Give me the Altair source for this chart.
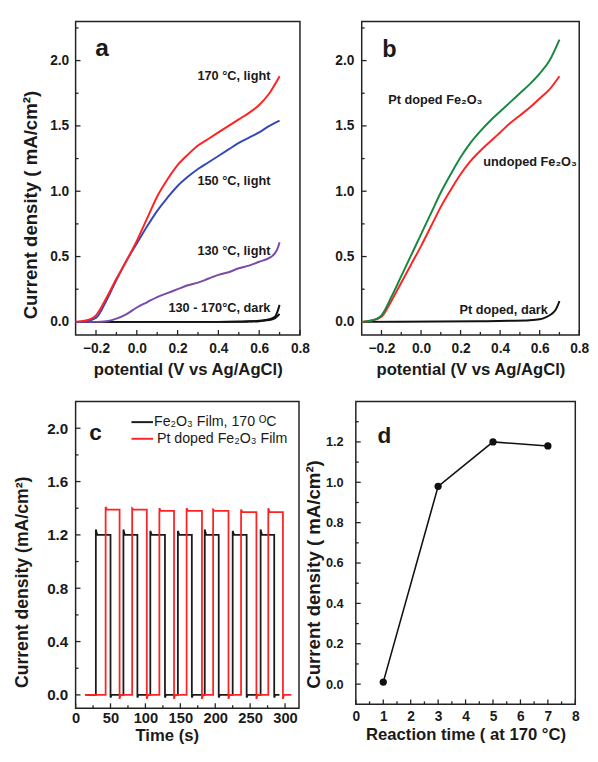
import altair as alt
import pandas as pd

FONT = "Liberation Sans"
INK = "#1a1a1a"
FRAME = "#222222"

# ---------------- panel a : LSV, undoped films ----------------
a_x = [-0.3, -0.25, -0.2, -0.15, -0.1, -0.05, 0.0, 0.05, 0.1, 0.15, 0.2, 0.25,
       0.3, 0.35, 0.4, 0.45, 0.5, 0.55, 0.6, 0.65, 0.7]
a_170_light = [0.0, 0.01, 0.05, 0.18, 0.33, 0.47, 0.62, 0.79, 0.96, 1.09, 1.20, 1.28,
               1.35, 1.40, 1.45, 1.50, 1.55, 1.60, 1.66, 1.75, 1.88]
a_150_light = [0.0, 0.005, 0.03, 0.16, 0.32, 0.47, 0.60, 0.73, 0.85, 0.95, 1.04, 1.11,
               1.17, 1.22, 1.27, 1.32, 1.37, 1.41, 1.45, 1.50, 1.54]
a_130_x = [-0.3, -0.2, -0.15, -0.1, -0.05, 0.0, 0.05, 0.1, 0.15, 0.2, 0.25, 0.3, 0.35,
           0.4, 0.45, 0.5, 0.55, 0.6, 0.65, 0.675, 0.69, 0.7]
a_130_light = [0.0, 0.0, 0.005, 0.025, 0.06, 0.11, 0.15, 0.19, 0.22, 0.25, 0.28, 0.30, 0.33,
               0.36, 0.38, 0.41, 0.43, 0.46, 0.49, 0.52, 0.56, 0.61]
a_dark_x = [-0.3, 0.4, 0.5, 0.55, 0.6, 0.63, 0.66, 0.68, 0.69, 0.7]
a_dark_hi = [0.0, 0.0, 0.002, 0.004, 0.008, 0.014, 0.025, 0.045, 0.08, 0.13]
a_dark_lo = [0.0, 0.0, 0.0, 0.002, 0.005, 0.01, 0.018, 0.03, 0.045, 0.06]
a_notes = ["170 °C, light", "150 °C, light", "130 °C, light", "130 - 170°C, dark"]
a_notes_x = [0.655, 0.655, 0.655, 0.655]
a_notes_y = [1.885, 1.075, 0.544, 0.105]

# ---------------- panel b : Pt doped vs undoped ----------------
b_x = a_x
b_pt_light = [0.0, 0.01, 0.05, 0.19, 0.35, 0.51, 0.67, 0.83, 0.99, 1.13, 1.26, 1.37,
              1.46, 1.54, 1.61, 1.68, 1.75, 1.82, 1.90, 2.00, 2.16]
b_undoped = [0.0, 0.01, 0.04, 0.16, 0.30, 0.44, 0.58, 0.73, 0.88, 1.01, 1.13, 1.23,
             1.31, 1.38, 1.45, 1.52, 1.58, 1.64, 1.71, 1.78, 1.88]
b_dark_x = [-0.3, 0.3, 0.45, 0.55, 0.6, 0.63, 0.66, 0.68, 0.69, 0.7]
b_dark = [0.0, 0.005, 0.008, 0.012, 0.02, 0.035, 0.06, 0.09, 0.12, 0.16]
b_notes_left = ["Pt doped Fe₂O₃", "undoped Fe₂O₃"]
b_notes_left_x = [-0.166, 0.315]
b_notes_left_y = [1.70, 1.22]
b_notes_right = ["Pt doped, dark"]
b_notes_right_x = [0.641]
b_notes_right_y = [0.09]

xv_ticks = [-0.2, 0.0, 0.2, 0.4, 0.6, 0.8]
xv_minor = [-0.1, 0.1, 0.3, 0.5, 0.7]
jv_ticks = [0.0, 0.5, 1.0, 1.5, 2.0]
jv_minor = [0.25, 0.75, 1.25, 1.75, 2.25]

# ---------------- panel c : chopped light transients ----------------
c_black_name = "Fe₂O₃ Film, 170 ᴼC"
c_red_name = "Pt doped Fe₂O₃ Film"
c_black_on = [29, 68.5, 107, 146.5, 185, 225, 265]
c_black_off = [50, 88.5, 128, 166.5, 205, 245, 284.5]
c_black_level = [1.20, 1.20, 1.20, 1.20, 1.20, 1.20, 1.20]
c_black_peak = [1.24, 1.24, 1.23, 1.23, 1.24, 1.23, 1.24]
c_red_on = [43, 81, 120, 159, 197, 237, 276]
c_red_off = [63, 102, 141, 181, 219, 259, 297]
c_red_level = [1.39, 1.39, 1.38, 1.38, 1.38, 1.37, 1.37]
c_red_peak = [1.41, 1.40, 1.40, 1.40, 1.39, 1.39, 1.40]
c_black_span = [14, 292]
c_red_span = [14, 309]
c_black_dip = -0.02
c_red_dip = -0.03
t_ticks = [0, 50, 100, 150, 200, 250, 300]
t_minor = [25, 75, 125, 175, 225, 275]
jc_ticks = [0.0, 0.4, 0.8, 1.2, 1.6, 2.0]
jc_minor = [0.2, 0.6, 1.0, 1.4, 1.8]

# ---------------- panel d : reaction time ----------------
d_time = [1, 3, 5, 7]
d_current = [0.01, 0.98, 1.20, 1.18]
r_ticks = [0, 1, 2, 3, 4, 5, 6, 7, 8]
r_minor = [0.5, 1.5, 2.5, 3.5, 4.5, 5.5, 6.5, 7.5]
jd_ticks = [0.0, 0.2, 0.4, 0.6, 0.8, 1.0, 1.2]
jd_minor = [0.1, 0.3, 0.5, 0.7, 0.9, 1.1, 1.3]


def axis(values, fmt, title, lsize, tsize, lpad, tpad, **kw):
    return alt.Axis(values=values, format=fmt, title=title, labelFont=FONT,
                    labelFontSize=lsize, labelFontWeight="bold", labelColor=INK,
                    titleFont=FONT, titleFontSize=tsize, titleFontWeight="bold",
                    titleColor=INK, labelPadding=lpad, titlePadding=tpad, ticks=False,
                    tickSize=0, domain=False, grid=False, labelFlush=False,
                    labelOverlap=False, labelBound=False, **kw)


def line(xs, ys, color, xenc, yenc, width=2.0, interp="monotone"):
    df = pd.DataFrame({"x": xs, "y": ys})
    return alt.Chart(df).mark_line(color=color, strokeWidth=width,
                                   interpolate=interp).encode(x=xenc, y=yenc)


def tick_layers(xenc, yenc, xmaj, xmin, ymaj, ymin, H):
    out = []
    for vals, L in ((xmaj, 5), (xmin, 3)):
        out.append(alt.Chart(pd.DataFrame({"x": vals})).mark_rule(
            color=FRAME, strokeWidth=1.3).encode(x=xenc, y=alt.value(H), y2=alt.value(H - L)))
    for vals, L in ((ymaj, 5), (ymin, 3)):
        out.append(alt.Chart(pd.DataFrame({"y": vals})).mark_rule(
            color=FRAME, strokeWidth=1.3).encode(y=yenc, x=alt.value(0), x2=alt.value(L)))
    return out


def letter(t, px, py, size):
    return alt.Chart(pd.DataFrame({"t": [t]})).mark_text(
        font=FONT, fontSize=size, fontWeight="bold", color=INK, align="left",
        baseline="alphabetic").encode(text="t:N", x=alt.value(px), y=alt.value(py))


def notes(xs, ys, texts, xenc, yenc, align, size=13):
    df = pd.DataFrame({"x": xs, "y": ys, "t": texts})
    return alt.Chart(df).mark_text(font=FONT, fontSize=size, fontWeight="bold",
                                   color=INK, align=align, baseline="middle").encode(
        x=xenc, y=yenc, text="t:N")


# ---- panel a
WA, HA = 229, 320
xa = alt.X("x:Q", scale=alt.Scale(domain=[-0.3, 0.8], nice=False, zero=False),
           axis=axis(xv_ticks, ".1f", "potential (V vs Ag/AgCl)", 14, 17, 7, 6))
ya = alt.Y("y:Q", scale=alt.Scale(domain=[-0.1, 2.3], nice=False, zero=False),
           axis=axis(jv_ticks, ".1f", "Current density ( mA/cm²)", 14, 19, 7, 9.5, titleY=187))
panel_a = alt.layer(
    *tick_layers(xa, ya, xv_ticks, xv_minor, jv_ticks, jv_minor, HA),
    line(a_dark_x, a_dark_lo, "#111111", xa, ya),
    line(a_dark_x, a_dark_hi, "#111111", xa, ya),
    line(a_130_x, a_130_light, "#7b4aa8", xa, ya),
    line(a_x, a_150_light, "#3548b8", xa, ya),
    line(a_x, a_170_light, "#ff2222", xa, ya),
    notes(a_notes_x, a_notes_y, a_notes, xa, ya, "right"),
    letter("a", 20, 35, 25),
).properties(width=WA, height=HA)

# ---- panel b
WB = 222
xb = alt.X("x:Q", scale=alt.Scale(domain=[-0.3, 0.8], nice=False, zero=False),
           axis=axis(xv_ticks, ".1f", "potential (V vs Ag/AgCl)", 14, 17, 7, 6))
yb = alt.Y("y:Q", scale=alt.Scale(domain=[-0.1, 2.3], nice=False, zero=False),
           axis=axis(jv_ticks, ".1f", None, 14, 19, 8, 9))
panel_b = alt.layer(
    *tick_layers(xb, yb, xv_ticks, xv_minor, jv_ticks, jv_minor, HA),
    line(b_dark_x, b_dark, "#111111", xb, yb),
    line(b_x, b_undoped, "#ff2222", xb, yb),
    line(b_x, b_pt_light, "#16883f", xb, yb),
    notes(b_notes_left_x, b_notes_left_y, b_notes_left, xb, yb, "left"),
    notes(b_notes_right_x, b_notes_right_y, b_notes_right, xb, yb, "right"),
    letter("b", 21, 36, 24),
).properties(width=WB, height=HA)


# ---- panel c
def pulses(on, off, level, peak, dip, span, name):
    xs, ys = [span[0]], [0.0]
    for t0, t1, lv, pk in zip(on, off, level, peak):
        xs += [t0, t0, t0 + 2, t1, t1, t1 + 1.5]
        ys += [0.0, pk, lv, lv, dip, 0.0]
    xs.append(span[1])
    ys.append(0.0)
    return pd.DataFrame({"x": xs, "y": ys, "s": name, "i": range(len(xs))})


c_df = pd.concat([
    pulses(c_black_on, c_black_off, c_black_level, c_black_peak, c_black_dip, c_black_span, c_black_name),
    pulses(c_red_on, c_red_off, c_red_level, c_red_peak, c_red_dip, c_red_span, c_red_name),
])
c_scale = alt.Scale(domain=[c_black_name, c_red_name], range=["#1a1a1a", "#ff2222"])
WC, HC = 228, 313
xc = alt.X("x:Q", scale=alt.Scale(domain=[0, 320], nice=False, zero=False),
           axis=axis(t_ticks, "d", "Time (s)", 15, 17, 3, 2, titleX=93))
yc = alt.Y("y:Q", scale=alt.Scale(domain=[-0.1, 2.2], nice=False, zero=False),
           axis=axis(jc_ticks, ".1f", "Current density (mA/cm²)", 15.5, 18, 8, 15.5, titleY=184))
c_lines = alt.Chart(c_df).mark_line(strokeWidth=1.8).encode(
    x=xc, y=yc, order="i:Q", color=alt.Color("s:N", scale=c_scale, legend=None))


def legend_row(name, py, tx):
    df = pd.DataFrame({"s": [name]})
    sw = alt.Chart(df).mark_rule(strokeWidth=2).encode(
        color=alt.Color("s:N", scale=c_scale, legend=None),
        x=alt.value(57), x2=alt.value(79), y=alt.value(py))
    tx_mark = alt.Chart(df).mark_text(font=FONT, fontSize=14.5, color=INK, align="left",
                                      baseline="middle").encode(
        text="s:N", x=alt.value(tx), y=alt.value(py))
    return [sw, tx_mark]


panel_c = alt.layer(
    *tick_layers(xc, yc, t_ticks, t_minor, jc_ticks, jc_minor, HC),
    c_lines,
    *legend_row(c_black_name, 21, 80),
    *legend_row(c_red_name, 38, 83),
    letter("c", 14, 39, 23),
).properties(width=WC, height=HC)

# ---- panel d
WD, HD = 224, 309
xd = alt.X("x:Q", scale=alt.Scale(domain=[0, 8], nice=False, zero=False),
           axis=axis(r_ticks, "d", "Reaction time ( at 170 °C)", 14, 17, 6, 3))
yd = alt.Y("y:Q", scale=alt.Scale(domain=[-0.1, 1.4], nice=False, zero=False),
           axis=axis(jd_ticks, ".1f", "Current density ( mA/cm²)", 13, 19, 13, 2, titleY=176))
d_df = pd.DataFrame({"x": d_time, "y": d_current})
panel_d = alt.layer(
    *tick_layers(xd, yd, r_ticks, r_minor, jd_ticks, jd_minor, HD),
    alt.Chart(d_df).mark_line(color="#111111", strokeWidth=1.6).encode(x=xd, y=yd),
    alt.Chart(d_df).mark_point(filled=True, color="#111111", size=55, opacity=1).encode(x=xd, y=yd),
    letter("d", 22, 42, 23),
).properties(width=WD, height=HD)

row1 = alt.hconcat(panel_a, panel_b, spacing=23)
row2 = alt.hconcat(panel_c, panel_d, spacing=4)
chart = alt.vconcat(row1, row2, spacing=23).properties(
    padding={"left": 5, "top": 5, "right": 0, "bottom": 0},
    background="white",
).configure_view(stroke=FRAME, strokeWidth=1.5)

chart.save("out.html", embed_options={"renderer": "svg", "actions": False})
